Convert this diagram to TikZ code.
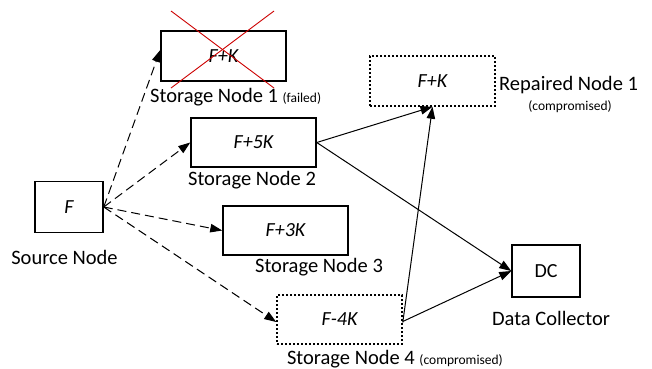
\documentclass[tikz,border=0pt]{standalone}
\usepackage{fontspec}
\setmainfont{Carlito}
\usetikzlibrary{arrows.meta}
\newcommand\smtxt{\fontsize{13.5}{16}\selectfont}
\begin{document}
\begin{tikzpicture}[x=1pt,y=-1pt,
  box/.style={draw,line width=1.5pt,inner sep=0pt,font=\fontsize{20}{24}\selectfont\itshape},
  dbox/.style={box,line width=1.5pt,dash pattern=on 2.4pt off 1.6pt},
  lbl/.style={inner sep=0pt,font=\fontsize{20.5}{24}\selectfont},
  sml/.style={font=\smtxt},
  arr/.style={line width=1pt,-{Triangle[length=12pt,width=8.5pt]}},
  darr/.style={arr,dash pattern=on 9pt off 5pt}]
\useasboundingbox (0,0) rectangle (652,368);
\node[box,minimum width=68pt,minimum height=51pt] (src) at (69,207) {F};
\node[box,minimum width=125pt,minimum height=50pt] (sn1) at (223.5,56) {F+K};
\node[box,minimum width=125pt,minimum height=49pt] (sn2) at (253.5,142.5) {F+5K};
\node[box,minimum width=125pt,minimum height=49pt] (sn3) at (285.5,230.5) {F+3K};
\node[dbox,minimum width=125pt,minimum height=49pt] (sn4) at (339.5,319.5) {F-4K};
\node[dbox,minimum width=125pt,minimum height=50pt] (rep) at (432.5,81) {F+K};
\node[box,font=\fontsize{20}{24}\selectfont,minimum width=68pt,minimum height=52pt] (dc) at (546,271) {DC};
\coordinate (x1) at (171,11);
\coordinate (x2) at (274,88);
\coordinate (x3) at (274,11);
\coordinate (x4) at (171,88);
\draw[red!80!black,line width=0.9pt] (x1) -- (x2);
\draw[red!80!black,line width=0.9pt] (x3) -- (x4);
\node[lbl] (lsrc) at (64.5,257) {Source Node};
\node[lbl,anchor=west] (l1) at (150,97) {Storage Node 1 {\smtxt(failed)}};
\node[lbl] (l2) at (252,180) {Storage Node 2};
\node[lbl] (l3) at (319,267) {Storage Node 3};
\node[lbl,anchor=east] (l4) at (503,359) {Storage Node 4 {\smtxt(compromised)}};
\node[lbl,anchor=west] (lrep) at (499,85) {Repaired Node 1};
\node[lbl,sml] (lcomp) at (570,107) {(compromised)};
\node[lbl] (ldc) at (551,318) {Data Collector};
\draw[darr] (src.east) -- ([yshift=6pt]sn1.west);
\draw[darr] (src.east) -- (sn2.west);
\draw[darr] (src.east) -- (sn3.west);
\draw[darr] (src.east) -- ([yshift=-2.5pt]sn4.west);
\draw[arr] (sn2.east) -- (rep.south);
\draw[arr] (sn2.east) -- (dc.west);
\draw[arr] ([yshift=-3pt]sn4.east) -- (rep.south);
\draw[arr] ([yshift=-2pt]sn4.east) -- (dc.west);
\end{tikzpicture}
\end{document}
